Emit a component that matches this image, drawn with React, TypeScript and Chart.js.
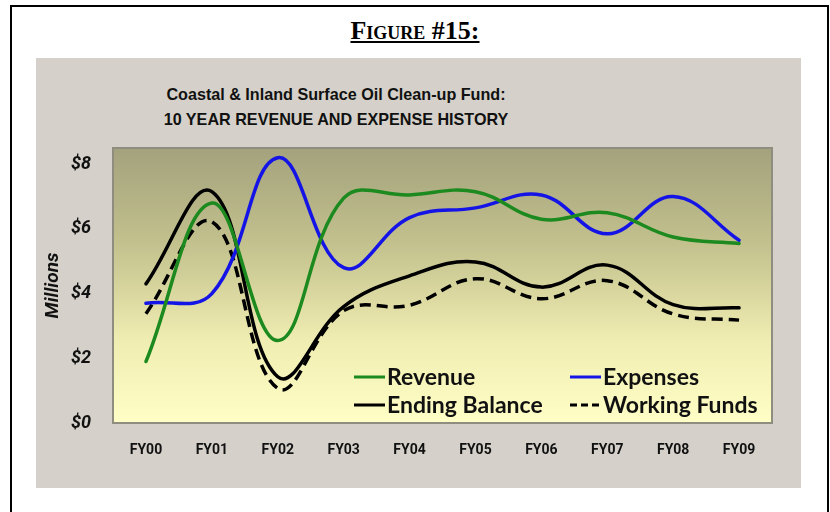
import React, { useEffect, useRef } from "react";
import { Chart, registerables } from "chart.js";

Chart.register(...registerables);

// ---- Data ----
const categories = ["FY00", "FY01", "FY02", "FY03", "FY04", "FY05", "FY06", "FY07", "FY08", "FY09"];
const revenue = [1.9, 6.8, 2.55, 6.95, 7.05, 7.15, 6.3, 6.5, 5.75, 5.55];
const expenses = [3.7, 4.0, 8.2, 4.8, 6.35, 6.65, 7.05, 5.85, 7.0, 5.65];
const endingBalance = [4.3, 7.15, 1.43, 3.6, 4.55, 4.98, 4.2, 4.88, 3.66, 3.56];
const workingFunds = [3.38, 6.22, 1.07, 3.47, 3.64, 4.46, 3.84, 4.4, 3.37, 3.18];
const yTickValues = [0, 2, 4, 6, 8];
const yMax = 8.5;

const seriesLabels = ["Revenue", "Expenses", "Ending Balance", "Working Funds"];
const chartTitle1 = "Coastal & Inland Surface Oil Clean-up Fund:";
const chartTitle2 = "10 YEAR REVENUE AND EXPENSE HISTORY";
const figureTitle = "Figure #15:";
const yAxisTitle = "Millions";

const narrowFont = "Roboto, 'Liberation Sans Narrow', sans-serif";

const plotPlugin = {
  id: "plotDecor",
  beforeDraw(chart: any) {
    const { ctx, chartArea: a } = chart;
    const g = ctx.createLinearGradient(0, a.top, 0, a.bottom);
    g.addColorStop(0, "#a3a27d");
    g.addColorStop(0.35, "#c3c18d");
    g.addColorStop(0.7, "#efedb1");
    g.addColorStop(1, "#fffec6");
    ctx.save();
    ctx.fillStyle = g;
    ctx.fillRect(a.left, a.top, a.right - a.left, a.bottom - a.top);
    ctx.restore();
  },
  afterDraw(chart: any) {
    const { ctx, chartArea: a } = chart;
    ctx.save();
    ctx.strokeStyle = "#8e8d80";
    ctx.lineWidth = 2;
    ctx.strokeRect(a.left, a.top, a.right - a.left, a.bottom - a.top);

    // legend (2 x 2) inside plot area
    const colX = [241, 457];
    const rowY = [46, 18];
    chart.data.datasets.forEach((ds: any, i: number) => {
      const col = i % 2;
      const row = Math.floor(i / 2);
      const x0 = a.left + colX[col];
      const y = a.bottom - rowY[row];
      ctx.beginPath();
      ctx.strokeStyle = ds.borderColor;
      ctx.lineWidth = 3;
      ctx.setLineDash(ds.borderDash && ds.borderDash.length ? [7, 4] : []);
      ctx.moveTo(x0, y);
      ctx.lineTo(x0 + 31, y);
      ctx.stroke();
      ctx.setLineDash([]);
      ctx.fillStyle = "#111";
      ctx.font = "bold 23px Lato, 'Open Sans', sans-serif";
      ctx.textBaseline = "middle";
      ctx.textAlign = "left";
      ctx.fillText(ds.label, x0 + 33, y + 1);
    });
    ctx.restore();
  },
};

function ChartCanvas() {
  const ref = useRef<HTMLCanvasElement | null>(null);
  useEffect(() => {
    if (!ref.current) return;
    const common = {
      fill: false,
      pointRadius: 0,
      pointHoverRadius: 0,
      borderWidth: 3.5,
      tension: 0.4,
      borderCapStyle: "round" as const,
    };
    const chart = new Chart(ref.current, {
      type: "line",
      data: {
        labels: categories,
        datasets: [
          { ...common, label: seriesLabels[0], data: revenue, borderColor: "#1c8a1f" },
          { ...common, label: seriesLabels[1], data: expenses, borderColor: "#1414e6" },
          { ...common, label: seriesLabels[2], data: endingBalance, borderColor: "#000000" },
          {
            ...common,
            label: seriesLabels[3],
            data: workingFunds,
            borderColor: "#000000",
            borderDash: [11, 6],
            borderCapStyle: "butt" as const,
          },
        ],
      },
      options: {
        responsive: false,
        animation: false,
        devicePixelRatio: 1,
        layout: { padding: { left: 38, top: 148, right: 58, bottom: 0 } },
        plugins: {
          legend: { display: false },
          title: { display: false },
          tooltip: { enabled: false },
        },
        scales: {
          x: {
            type: "category",
            offset: true,
            grid: { display: false, drawTicks: false },
            border: { display: false },
            ticks: {
              padding: 19,
              color: "#111",
              font: { family: narrowFont, weight: "bold", size: 14 },
              maxRotation: 0,
            },
            afterFit(scale: any) {
              scale.height = 89;
            },
          },
          y: {
            min: 0,
            max: yMax,
            grid: { display: false, drawTicks: false },
            border: { display: false },
            afterBuildTicks(scale: any) {
              scale.ticks = yTickValues.map((v) => ({ value: v }));
            },
            ticks: {
              padding: 22,
              color: "#111",
              font: { family: narrowFont, weight: "bold", style: "italic", size: 18 },
              callback: (v: any) => "$" + v,
            },
            title: {
              display: true,
              text: yAxisTitle,
              color: "#111",
              font: { family: narrowFont, weight: "bold", style: "italic", size: 19 },
            },
            afterFit(scale: any) {
              scale.width = 75;
            },
          },
        },
      },
      plugins: [plotPlugin],
    });
    return () => chart.destroy();
  }, []);
  return (
    <canvas
      ref={ref}
      width={830}
      height={512}
      style={{ position: "absolute", left: 0, top: 0, width: 830, height: 512 }}
    />
  );
}

export default function App() {
  return (
    <div
      style={{
        position: "fixed",
        left: 0,
        top: 0,
        width: 830,
        height: 512,
        overflow: "hidden",
        background: "#ffffff",
      }}
    >
      <div
        style={{
          position: "absolute",
          left: 10,
          top: 5,
          width: 815,
          height: 600,
          border: "2px solid #000",
        }}
      />
      <div
        style={{
          position: "absolute",
          left: 36,
          top: 58,
          width: 765,
          height: 430,
          background: "#d5d1ca",
        }}
      />
      <div
        style={{
          position: "absolute",
          left: 0,
          top: 16,
          width: 830,
          textAlign: "center",
          fontFamily: "'Liberation Serif', 'Times New Roman', serif",
          fontWeight: "bold",
          fontSize: 26,
          lineHeight: "30px",
          fontVariant: "small-caps",
          textDecoration: "underline",
          color: "#000",
        }}
      >
        {figureTitle}
      </div>
      <div
        style={{
          position: "absolute",
          left: 86,
          top: 82,
          width: 500,
          textAlign: "center",
          fontFamily: "'Liberation Sans', Arial, sans-serif",
          fontWeight: "bold",
          fontSize: 17,
          lineHeight: "25px",
          color: "#111",
          transform: "scaleX(0.95)",
          transformOrigin: "center",
        }}
      >
        <div>{chartTitle1}</div>
        <div>{chartTitle2}</div>
      </div>
      <ChartCanvas />
    </div>
  );
}
